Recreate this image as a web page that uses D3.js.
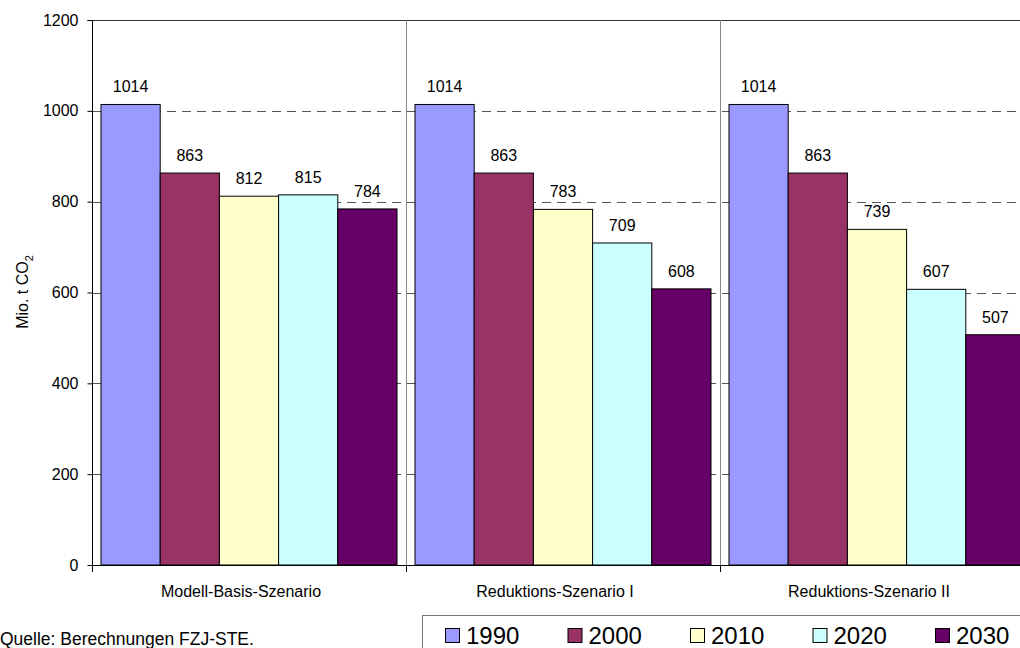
<!DOCTYPE html>
<html>
<head>
<meta charset="utf-8">
<script src="https://cdn.jsdelivr.net/npm/d3@7"></script>
<style>
  body { margin: 0; background: #fff; }
  text { font-family: "Liberation Sans", Arial, sans-serif; fill: #000; }
</style>
</head>
<body>
<div id="chart"></div>
<script>
// data
var scenarios = ["Modell-Basis-Szenario", "Reduktions-Szenario I", "Reduktions-Szenario II"];
var years = ["1990", "2000", "2010", "2020", "2030"];
var valsBasis = [1014, 863, 812, 815, 784];
var valsRed1  = [1014, 863, 783, 709, 608];
var valsRed2  = [1014, 863, 739, 607, 507];
var yTicks = [0, 200, 400, 600, 800, 1000, 1200];
var colors = ["#9999ff", "#993366", "#ffffcc", "#ccffff", "#660066"];

var allVals = [valsBasis, valsRed1, valsRed2];
var data = scenarios.map(function(s, i) {
  return { name: s, values: years.map(function(y, j) { return { year: y, v: allVals[i][j] }; }) };
});

var width = 1020, height = 648;
var pLeft = 92, pTop = 20, pBottom = 565, pRight = 1034;

var svg = d3.select("#chart").append("svg")
  .attr("width", width).attr("height", height);

var x0 = d3.scaleBand().domain(scenarios).range([pLeft, pRight]).padding(0);
var x1 = d3.scaleBand().domain(years).range([0, x0.bandwidth()]).paddingInner(0).paddingOuter(0.152);
var y = d3.scaleLinear().domain([0, 1200]).range([pBottom, pTop]);
var color = d3.scaleOrdinal().domain(years).range(colors);

// gridlines (dashed)
svg.append("g").selectAll("line")
  .data(yTicks.filter(function(t) { return t > 0 && t < 1200; }))
  .enter().append("line")
  .attr("x1", pLeft).attr("x2", width)
  .attr("y1", function(d) { return Math.round(y(d)) + 0.5; })
  .attr("y2", function(d) { return Math.round(y(d)) + 0.5; })
  .attr("stroke", "#555").attr("stroke-dasharray", "9,6");

// top border
svg.append("line").attr("x1", pLeft).attr("x2", width)
  .attr("y1", pTop + 0.5).attr("y2", pTop + 0.5).attr("stroke", "#333");

// separators between categories
svg.append("g").selectAll("line")
  .data(scenarios.slice(1))
  .enter().append("line")
  .attr("x1", function(d) { return Math.round(x0(d)) + 0.5; })
  .attr("x2", function(d) { return Math.round(x0(d)) + 0.5; })
  .attr("y1", pTop).attr("y2", pBottom + 7)
  .attr("stroke", "#888");

// bars
var groups = svg.append("g").selectAll("g")
  .data(data).enter().append("g")
  .attr("transform", function(d) { return "translate(" + x0(d.name) + ",0)"; });

groups.selectAll("rect")
  .data(function(d) { return d.values; })
  .enter().append("rect")
  .attr("x", function(d) { return x1(d.year); })
  .attr("y", function(d) { return y(d.v); })
  .attr("width", x1.bandwidth())
  .attr("height", function(d) { return pBottom - y(d.v); })
  .attr("fill", function(d) { return color(d.year); })
  .attr("stroke", "#000").attr("stroke-width", 1);

groups.selectAll("text.val")
  .data(function(d) { return d.values; })
  .enter().append("text").attr("class", "val")
  .attr("x", function(d) { return x1(d.year) + x1.bandwidth() / 2; })
  .attr("y", function(d) { return y(d.v) - 12; })
  .attr("text-anchor", "middle")
  .style("font-size", "16px")
  .text(function(d) { return d.v; });

// y axis
var yAxis = d3.axisLeft(y).tickValues(yTicks).tickFormat(d3.format("d")).tickSize(5).tickPadding(9);
var gy = svg.append("g").attr("transform", "translate(" + (pLeft + 0.5) + ",0)").call(yAxis);
gy.selectAll("text").style("font-size", "16px").attr("fill", "#000");
gy.selectAll("line").attr("stroke", "#000");
gy.select(".domain").attr("stroke", "#000").attr("d", "M-5," + (pTop + 0.5) + "H0V" + (pBottom + 0.5));

// x axis
svg.append("line").attr("x1", pLeft).attr("x2", width)
  .attr("y1", pBottom + 0.5).attr("y2", pBottom + 0.5).attr("stroke", "#000");
svg.append("g").selectAll("line")
  .data(scenarios)
  .enter().append("line")
  .attr("x1", function(d) { return Math.round(x0(d)) + 0.5; })
  .attr("x2", function(d) { return Math.round(x0(d)) + 0.5; })
  .attr("y1", pBottom).attr("y2", pBottom + 7)
  .attr("stroke", "#000");
svg.append("g").selectAll("text")
  .data(scenarios).enter().append("text")
  .attr("x", function(d) { return x0(d) + x0.bandwidth() / 2 - 8; })
  .attr("y", 597)
  .attr("text-anchor", "middle")
  .style("font-size", "16px")
  .text(function(d) { return d; });

// y label
var yl = svg.append("text")
  .attr("transform", "translate(28,292) rotate(-90)")
  .attr("text-anchor", "middle")
  .style("font-size", "16px");
yl.append("tspan").text("Mio. t CO");
yl.append("tspan").attr("dy", 5).style("font-size", "11px").text("2");

// source
svg.append("text").attr("x", 0).attr("y", 645)
  .style("font-size", "17.5px")
  .text("Quelle: Berechnungen FZJ-STE.");

// legend
svg.append("rect").attr("x", 422.5).attr("y", 615.5)
  .attr("width", 620).attr("height", 60)
  .attr("fill", "#fff").attr("stroke", "#777");
var leg = svg.append("g").selectAll("g")
  .data(years).enter().append("g")
  .attr("transform", function(d, i) { return "translate(" + (445 + i * 122.5) + ",0)"; });
leg.append("rect").attr("x", 0.5).attr("y", 628.5).attr("width", 14).attr("height", 14)
  .attr("fill", function(d) { return color(d); }).attr("stroke", "#000");
leg.append("text").attr("x", 21).attr("y", 644)
  .style("font-size", "24px")
  .text(function(d) { return d; });
</script>
</body>
</html>
